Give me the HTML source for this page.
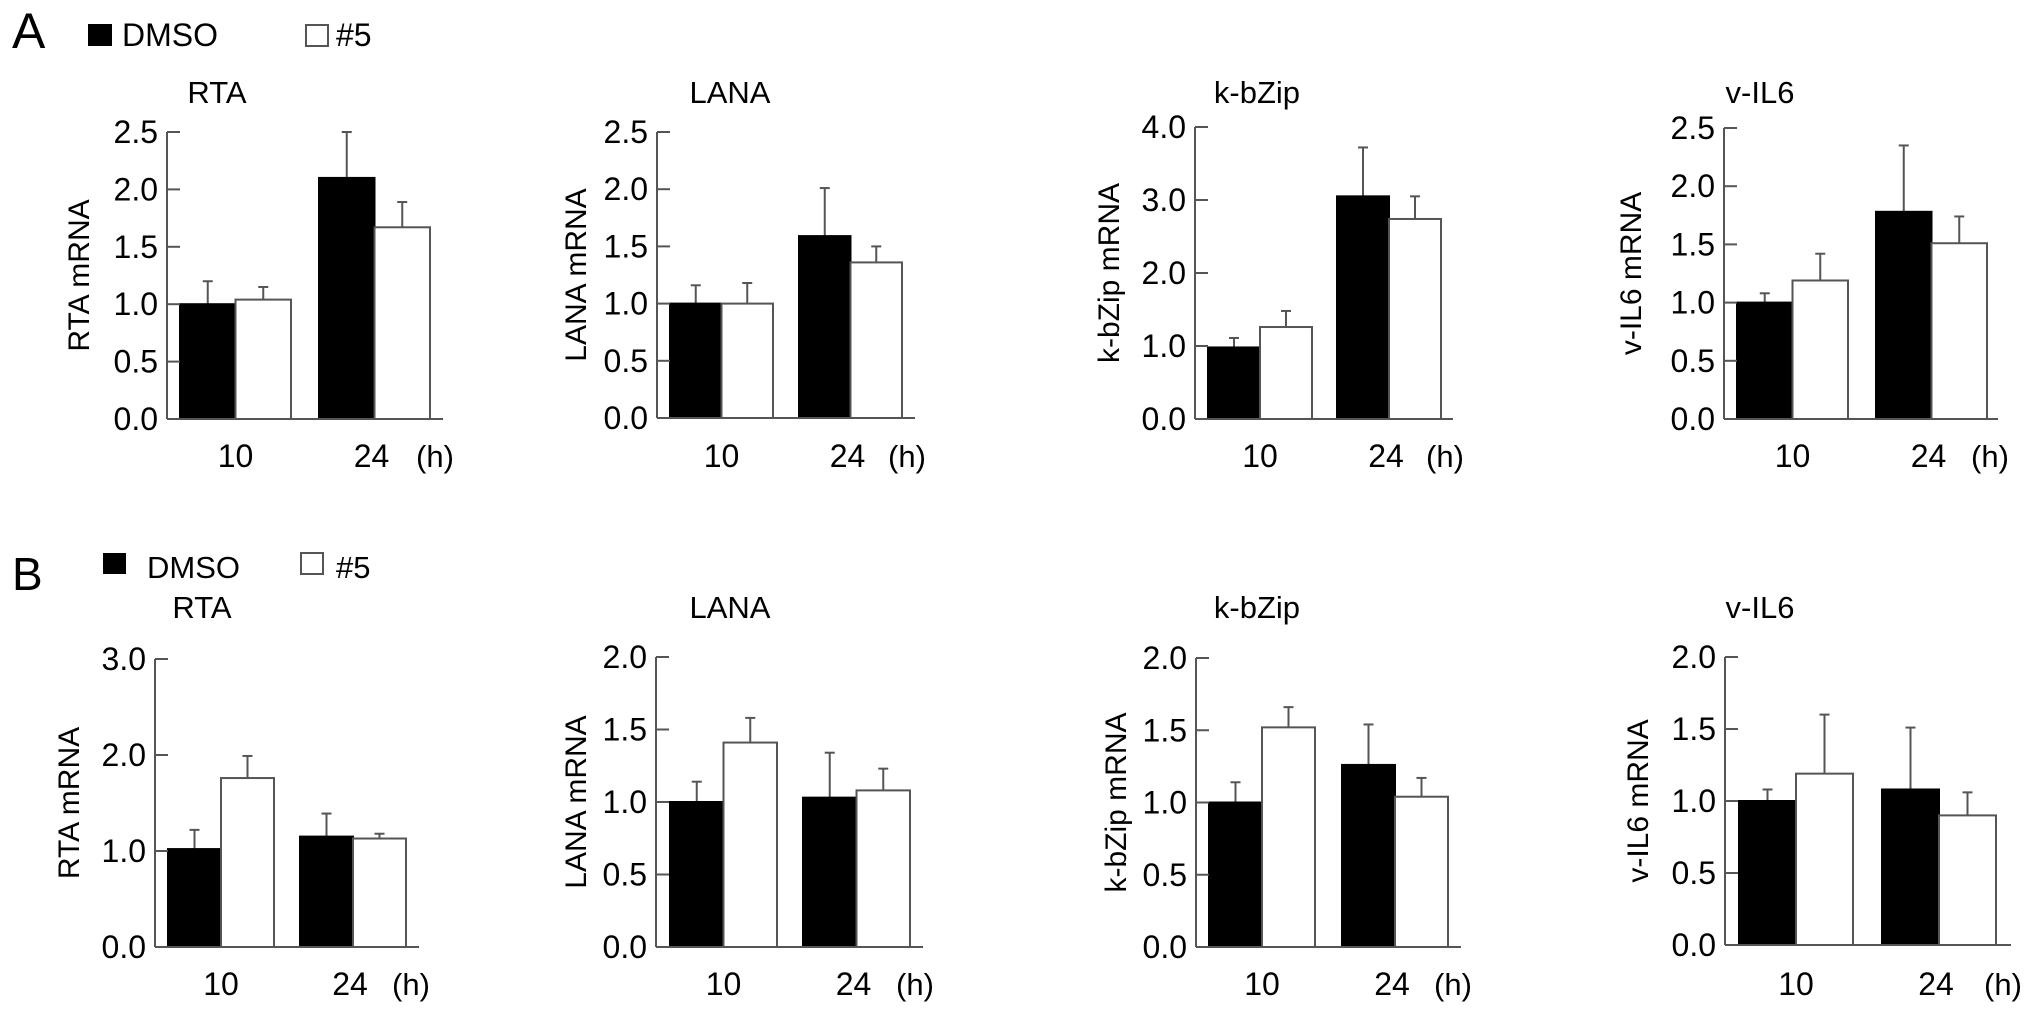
<!DOCTYPE html>
<html><head><meta charset="utf-8"><style>
html,body{margin:0;padding:0;background:#fff;}
svg{display:block;font-family:"Liberation Sans",Arial,sans-serif;}
</style></head><body>
<svg id="fig" width="2032" height="1015" viewBox="0 0 2032 1015">
<g>
<text x="12" y="48" font-size="50">A</text>
<rect x="88" y="24" width="24" height="22" fill="#000"/>
<text x="122" y="46" font-size="32">DMSO</text>
<rect x="306" y="25" width="22" height="21" fill="#fff" stroke="#555" stroke-width="2"/>
<text x="336" y="46" font-size="32">#5</text>
</g>
<g>
<text x="12" y="590" font-size="46">B</text>
<rect x="103" y="553" width="23" height="21" fill="#000"/>
<text x="147" y="578" font-size="31">DMSO</text>
<rect x="301" y="553" width="22" height="21" fill="#fff" stroke="#555" stroke-width="2"/>
<text x="336" y="578" font-size="31">#5</text>
</g>
</svg>
<script>
// data arrays
const chartTitles = ["RTA","LANA","k-bZip","v-IL6","RTA","LANA","k-bZip","v-IL6"];
const yTitles = ["RTA mRNA","LANA mRNA","k-bZip mRNA","v-IL6 mRNA","RTA mRNA","LANA mRNA","k-bZip mRNA","v-IL6 mRNA"];
const categories = ["10","24"];
const yMaxs = [2.5,2.5,4.0,2.5,3.0,2.0,2.0,2.0];
const yTickLabels = [
 ["0.0","0.5","1.0","1.5","2.0","2.5"],
 ["0.0","0.5","1.0","1.5","2.0","2.5"],
 ["0.0","1.0","2.0","3.0","4.0"],
 ["0.0","0.5","1.0","1.5","2.0","2.5"],
 ["0.0","1.0","2.0","3.0"],
 ["0.0","0.5","1.0","1.5","2.0"],
 ["0.0","0.5","1.0","1.5","2.0"],
 ["0.0","0.5","1.0","1.5","2.0"]];
const dmsoValues = [[1.0,2.1],[1.0,1.59],[0.98,3.05],[1.0,1.78],[1.02,1.15],[1.0,1.03],[1.0,1.26],[1.0,1.08]];
const dmsoErrTops = [[1.2,2.5],[1.16,2.01],[1.11,3.72],[1.08,2.35],[1.22,1.39],[1.14,1.34],[1.14,1.54],[1.08,1.51]];
const cpd5Values = [[1.04,1.67],[1.0,1.36],[1.26,2.74],[1.19,1.51],[1.76,1.13],[1.41,1.08],[1.52,1.04],[1.19,0.9]];
const cpd5ErrTops = [[1.15,1.89],[1.18,1.5],[1.48,3.05],[1.42,1.74],[1.99,1.18],[1.58,1.23],[1.66,1.17],[1.60,1.06]];

// layout (pixels)
const layout = [
 {ax:167,top:132,bot:419,end:443,b1:180,bw:55.5,g2:319,yt:78,tx:217,tty:103,xly:467},
 {ax:657,top:132,bot:418,end:915,b1:670,bw:51.5,g2:799,yt:575,tx:730,tty:103,xly:467},
 {ax:1195,top:127,bot:419,end:1453,b1:1208,bw:52,g2:1337,yt:1108,tx:1257,tty:103,xly:467},
 {ax:1724,top:128,bot:419,end:1998,b1:1737,bw:55.5,g2:1876,yt:1630,tx:1760,tty:103,xly:467},
 {ax:155,top:659,bot:947,end:419,b1:168,bw:53,g2:300,yt:68,tx:202,tty:618,xly:995},
 {ax:656,top:657,bot:947,end:923,b1:670,bw:53.5,g2:803,yt:575,tx:730,tty:618,xly:995},
 {ax:1196,top:658,bot:947,end:1461,b1:1209,bw:53,g2:1342,yt:1115,tx:1257,tty:618,xly:995},
 {ax:1725,top:657,bot:945,end:2011,b1:1739,bw:57,g2:1882,yt:1637,tx:1760,tty:618,xly:995}];

const NS="http://www.w3.org/2000/svg";
const svg=document.getElementById('fig');
const GRAY="#555";
function mk(tag,attrs,parent){const e=document.createElementNS(NS,tag);for(const k in attrs)e.setAttribute(k,attrs[k]);parent.appendChild(e);return e;}

for(let c=0;c<8;c++){
 const L=layout[c];
 const g=mk('g',{},svg);
 
 
 const y=v=>L.bot-(v/yMaxs[c])*(L.bot-L.top);
 const t=mk('text',{x:L.tx,y:L.tty,'font-size':31,'text-anchor':'middle'},g);
 t.textContent=chartTitles[c];
 
 
 const yt=mk('text',{x:0,y:0,'font-size':30,'text-anchor':'middle',transform:`translate(${L.yt+11},${(L.top+L.bot)/2}) rotate(-90)`},g);
 yt.textContent=yTitles[c];
 
 
 for(let i=0;i<2;i++){
  const x0=i===0?L.b1:L.g2;
  const vals=[[dmsoValues[c][i],dmsoErrTops[c][i],'#000','dmso'],[cpd5Values[c][i],cpd5ErrTops[c][i],'#fff','cpd5']];
  vals.forEach((s,j)=>{
   const bx=x0+j*L.bw, cx=bx+L.bw/2;
   const el=mk('line',{x1:cx,x2:cx,y1:y(s[0]),y2:y(s[1]),stroke:GRAY,'stroke-width':2},g);
   
   
   const cap=mk('line',{x1:cx-5,x2:cx+5,y1:y(s[1]),y2:y(s[1]),stroke:GRAY,'stroke-width':2},g);
   
   
   const r=mk('rect',{x:bx,y:y(s[0]),width:L.bw,height:L.bot-y(s[0]),fill:s[2],stroke:s[2]==='#000'?'#000':GRAY,'stroke-width':2},g);
   
   
  });
  const xl=mk('text',{x:x0+L.bw-(i===1?3:0),y:L.xly,'font-size':32,'text-anchor':'middle'},g);
  xl.textContent=categories[i];
  
  
 }
 const h=mk('text',{x:L.end-8,y:L.xly,'font-size':31,'text-anchor':'middle'},g);
 h.textContent='(h)';
 
 
 const ya=mk('line',{x1:L.ax,x2:L.ax,y1:L.top,y2:L.bot,stroke:GRAY,'stroke-width':2},g);
 
 
 const xa=mk('line',{x1:L.ax,x2:L.end,y1:L.bot,y2:L.bot,stroke:GRAY,'stroke-width':2},g);
 
 
 yTickLabels[c].forEach((lab)=>{
  const v=parseFloat(lab), ty=y(v);
  const tk=mk('line',{x1:L.ax,x2:L.ax+13,y1:ty,y2:ty,stroke:GRAY,'stroke-width':2},g);
  
  
  const tl=mk('text',{x:L.ax-9,y:ty+11,'font-size':32,'text-anchor':'end'},g);
  tl.textContent=lab;
  
  
 });
}
</script>
</body></html>
